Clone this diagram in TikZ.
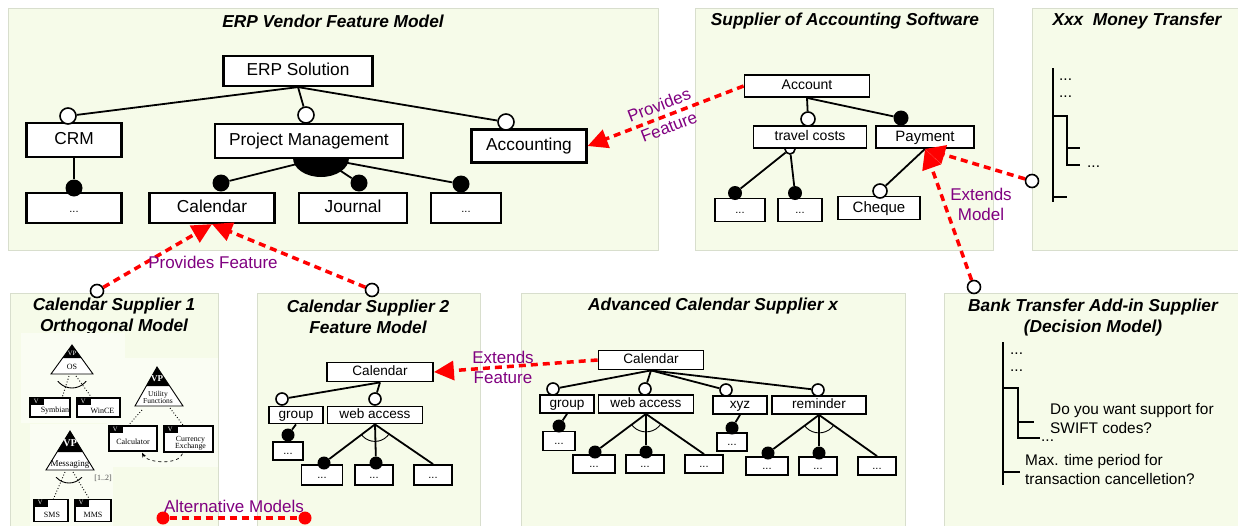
\documentclass[tikz,border=0pt]{standalone}
\usepackage{fontspec}
\setmainfont{Liberation Sans}
\newfontfamily\orthfont{Liberation Serif}
\usetikzlibrary{arrows.meta,calc}
\definecolor{pfill}{RGB}{246,251,233}
\definecolor{pline}{RGB}{216,222,205}
\definecolor{insetc}{RGB}{250,253,243}
\definecolor{lblpurple}{RGB}{128,0,128}
\definecolor{relred}{RGB}{255,0,0}
\newcommand\myfs[2]{\fontsize{#1}{#2}\selectfont}
\begin{document}
\begin{tikzpicture}[x=1pt,y=-1pt,
  panel/.style={draw=pline, fill=pfill, line width=1pt},
  ptitle/.style={font=\myfs{17.3}{21}\bfseries\itshape, align=center, inner sep=0},
  fbox/.style={draw, fill=white, inner sep=0},
  bigbox/.style={fbox, line width=2.2pt, font=\myfs{17.3}{20}, text height=12.5pt, text depth=3.5pt},
  midbox/.style={fbox, line width=1.8pt, font=\myfs{14}{16}, text height=10pt, text depth=3pt},
  paybox/.style={fbox, line width=1.8pt, font=\myfs{15}{17}, text height=11pt, text depth=3pt},
  smallbox/.style={fbox, line width=1.8pt, font=\myfs{13.6}{16}, text height=10pt, text depth=3pt},
  dotsbox/.style={fbox, line width=1.8pt, font=\myfs{11}{12}, text height=9pt, text depth=2.5pt},
  optc/.style={circle, draw, fill=white, line width=1.6pt, inner sep=0, minimum size=#1},
  mandc/.style={circle, fill=black, inner sep=0, minimum size=#1},
  srcc/.style={circle, draw=black, fill=white, line width=1.6pt, inner sep=0, minimum size=13pt},
  endc/.style={circle, fill=relred, inner sep=0, minimum size=13pt},
  conn/.style={line width=1.8pt},
  thinarc/.style={line width=0.9pt},
  tree/.style={line width=1.5pt},
  plain/.style={font=\myfs{15.4}{17}, inner sep=0, anchor=west},
  rel/.style={draw=relred, line width=3.5pt, dash pattern=on 7pt off 5pt},
  relarr/.style={rel, -{Triangle[length=20pt, width=19pt]}},
  lbl/.style={text=lblpurple, font=\myfs{17}{20}, align=center, inner sep=0},
  vbox/.style={draw, fill=white, line width=1.4pt, inner sep=0},
  vtxt/.style={font=\orthfont\myfs{8}{8}, inner sep=0},
  vtab/.style={text=white, font=\orthfont\myfs{6.5}{7}, inner sep=0},
  dotl/.style={dotted, line width=0.9pt},
  tri/.style={draw, fill=white, line width=0.9pt}
]
\useasboundingbox (0,0) rectangle (1238,525);

% ---------------- panels ----------------
\draw[panel] (8,8) rectangle (658,250);
\draw[panel] (695,8) rectangle (993,250);
\draw[panel] (1032,8) rectangle (1245,250);
\draw[panel] (10,293) rectangle (218,532);
\draw[panel] (257,293) rectangle (480,532);
\draw[panel] (521,293) rectangle (905,532);
\draw[panel] (944,293) rectangle (1245,532);

\node[ptitle] (t1) at (333,21) {ERP Vendor Feature Model};
\node[ptitle] (t2) at (845,21) {Supplier of Accounting Software};
\node[ptitle] (t3) at (1137,21) {Xxx~ Money Transfer};
\node[ptitle] (t4) at (114,317) {Calendar Supplier 1\\Orthogonal Model};
\node[ptitle] (t5) at (368,317) {Calendar Supplier 2\\Feature Model};
\node[ptitle] (t6) at (713,306) {Advanced Calendar Supplier x};
\node[ptitle] (t7) at (1093,318) {Bank Transfer Add-in Supplier\\(Decision Model)};

% ---------------- ERP vendor feature model ----------------
\node[bigbox, minimum width=149pt, minimum height=30pt] (erp) at (298,71) {ERP Solution};
\node[bigbox, minimum width=95pt, minimum height=34pt] (crm) at (74,140) {CRM};
\node[bigbox, minimum width=188pt, minimum height=34pt] (pm) at (309,141) {Project Management};
\node[bigbox, minimum width=115pt, minimum height=33pt] (acc) at (529,146) {Accounting};
\node[dotsbox, line width=2.2pt, text height=12.5pt, text depth=3.5pt, minimum width=95pt, minimum height=30pt] (crmd) at (74,208) {...};
\node[bigbox, minimum width=125pt, minimum height=30pt] (cal) at (212,208) {Calendar};
\node[bigbox, minimum width=108pt, minimum height=30pt] (jou) at (353,208) {Journal};
\node[dotsbox, line width=2.2pt, text height=12.5pt, text depth=3.5pt, minimum width=70pt, minimum height=30pt] (erpd) at (466,208) {...};

\node[optc=16pt] (o1) at (68,116) {};
\node[optc=16pt] (o2) at (306,115) {};
\node[optc=16pt] (o3) at (506,122) {};
\draw[conn] (erp.south) -- (o1);
\draw[conn] (erp.south) -- (o2);
\draw[conn] (erp.south) -- (o3);

\node[mandc=17pt] (m1) at (74,188) {};
\draw[conn] (crm.south) -- (m1);

\coordinate (pmo) at (321,158);
\begin{scope}
  \clip (280,158) rectangle (362,200);
  \fill (pmo) ellipse [x radius=28, y radius=19];
\end{scope}
\node[mandc=17pt] (m2) at (221,183) {};
\node[mandc=17pt] (m3) at (359,183) {};
\node[mandc=17pt] (m4) at (461,184) {};
\draw[conn] (pmo) -- (m2);
\draw[conn] (pmo) -- (m3);
\draw[conn] (pmo) -- (m4);

% ---------------- Supplier of accounting software ----------------
\node[optc=10pt] (o22) at (790,149) {};
\node[midbox, minimum width=125pt, minimum height=22pt] (acct) at (807,86) {Account};
\node[midbox, minimum width=113pt, minimum height=22pt] (trav) at (810,137) {travel costs};
\node[paybox, minimum width=98pt, minimum height=22pt] (pay) at (925,137) {Payment};
\node[dotsbox, minimum width=50pt, minimum height=23pt] (d21) at (740,210) {...};
\node[dotsbox, minimum width=44pt, minimum height=23pt] (d22) at (800,210) {...};
\node[paybox, minimum width=82pt, minimum height=23pt] (chq) at (879,208) {Cheque};

\node[optc=14pt] (o21) at (808,119) {};
\node[mandc=15pt] (m21) at (901,118) {};
\draw[conn] (acct.south) -- (o21);
\draw[conn] (acct.south) -- (m21);
\node[mandc=14pt] (m22) at (735,193) {};
\node[mandc=14pt] (m23) at (795,193) {};
\draw[conn] (o22) -- (m22);
\draw[conn] (o22) -- (m23);
\node[optc=14pt] (o23) at (880,191) {};
\draw[conn] (pay.south) -- (o23);

% ---------------- Xxx money transfer ----------------
\coordinate (x1) at (1053,68);
\coordinate (x2) at (1053,202);
\draw[tree] (x1) -- (x2);
\draw[tree] (1053,116) -- (1067,116) -- (1067,165) -- (1080,165);
\draw[tree] (1067,148) -- (1080,148);
\draw[tree] (1053,197) -- (1067,197);
\node[plain] (xd1) at (1059,80) {...};
\node[plain] (xd2) at (1059,97) {...};
\node[plain] (xd3) at (1087,167) {...};

% ---------------- Calendar supplier 1 (orthogonal model) ----------------
\fill[insetc] (21,333) rectangle (125,423);
\fill[insetc] (30,424) rectangle (113,526);
\fill[insetc] (107,358) rectangle (217.5,467);

% OS
\coordinate (osA) at (72,345);
\coordinate (osL) at (51,374);
\coordinate (osR) at (93,374);
\draw[tri] (osA) -- (osL) -- (osR) -- cycle;
\fill (osA) -- ($(osA)!0.45!(osL)$) -- ($(osA)!0.45!(osR)$) -- cycle;
\node[vtab] (osvp) at (72,353) {VP};
\node[vtxt] (osl) at (72,367) {OS};
\node[vbox, minimum width=40pt, minimum height=19pt] (sym) at (50,407.5) {};
\node[vbox, minimum width=43pt, minimum height=19pt] (win) at (98.5,407.5) {};
\coordinate (os1) at (69,376);
\coordinate (os2) at (76,376);
\coordinate (sy1) at (62,398);
\coordinate (wi1) at (92,398);
\draw[dotl] (os1) -- (sy1);
\draw[dotl] (os2) -- (wi1);
\begin{scope}
  \clip (40,381) rectangle (105,395);
  \draw[thinarc] (72,370) circle [radius=18];
\end{scope}

% Utility functions
\coordinate (utA) at (157,367);
\coordinate (utL) at (135,406);
\coordinate (utR) at (183,406);
\draw[tri] (utA) -- (utL) -- (utR) -- cycle;
\fill (utA) -- ($(utA)!0.49!(utL)$) -- ($(utA)!0.49!(utR)$) -- cycle;
\node[vtab, font=\orthfont\bfseries\myfs{9}{9}] (utvp) at (157,379) {VP};
\node[vtxt, align=center, font=\orthfont\myfs{7.5}{7}] (utl) at (158,397) {Utility\\Functions};
\node[vbox, minimum width=48pt, minimum height=25pt] (calc) at (133,438.5) {};
\node[vbox, minimum width=49pt, minimum height=26pt] (curr) at (188.5,439) {};
\coordinate (ut1) at (142,410);
\coordinate (ut2) at (170,408);
\coordinate (ca1) at (127,427);
\coordinate (cu1) at (183,425);
\draw[dotl] (ut1) -- (ca1);
\draw[dotl] (ut2) -- (cu1);
\draw[dashed, line width=0.7pt, -{Stealth[length=5pt,width=4pt]}] ($(curr.south)+(-6,1)$) .. controls +(-3,11) and +(6,11) .. ($(calc.south)+(9,1)$);

% Messaging
\coordinate (msA) at (70,431);
\coordinate (msL) at (46,470);
\coordinate (msR) at (94,470);
\draw[tri] (msA) -- (msL) -- (msR) -- cycle;
\fill (msA) -- ($(msA)!0.54!(msL)$) -- ($(msA)!0.54!(msR)$) -- cycle;
\node[vtab, font=\orthfont\bfseries\myfs{10.5}{10}] (msvp) at (70,443) {VP};
\node[vtxt, font=\orthfont\myfs{9}{9}] (msl) at (70,464) {Messaging};
\node[vtxt, text=black!70] (card) at (103,478) {[1..2]};
\node[vbox, minimum width=34pt, minimum height=22pt] (sms) at (51,510.5) {};
\node[vbox, minimum width=36pt, minimum height=22pt] (mms) at (93,510.5) {};
\coordinate (ms1) at (65,472);
\coordinate (ms2) at (73,472);
\coordinate (sm1) at (53,500);
\coordinate (mm1) at (90,500);
\draw[dotl] (ms1) -- (sm1);
\draw[dotl] (ms2) -- (mm1);
\begin{scope}
  \clip (40,477) rectangle (100,490);
  \draw[thinarc] (69,466) circle [radius=17];
\end{scope}

% variant tabs and labels
\foreach \b/\t/\dx/\dy in {sym/Symbian/5/3.5, win/WinCE/4/3.5, calc/Calculator/0/3.5, sms/SMS/1/4, mms/MMS/0/4}{
  \fill (\b.north west) rectangle ++(15,8);
  \node[vtab] at ($(\b.north west)+(7,4)$) {V};
  \node[vtxt] at ($(\b.center)+(\dx,\dy)$) {\t};
}
\fill (curr.north west) rectangle ++(15,8);
\node[vtab] at ($(curr.north west)+(7,4)$) {V};
\node[vtxt, align=center, font=\orthfont\myfs{7.8}{7.2}] (currl) at ($(curr.center)+(2,4)$) {Currency\\Exchange};

% ---------------- Calendar supplier 2 ----------------
\node[smallbox, minimum width=106pt, minimum height=19pt] (cal5) at (380,372) {Calendar};
\node[smallbox, minimum width=54pt, minimum height=17pt] (grp5) at (296,415) {group};
\node[smallbox, minimum width=95pt, minimum height=17pt] (wa5) at (375,415) {web access};
\node[dotsbox, minimum width=30pt, minimum height=18pt] (d50) at (288,451) {...};
\node[dotsbox, minimum width=41pt, minimum height=20pt] (d51) at (322,475) {...};
\node[dotsbox, minimum width=38pt, minimum height=20pt] (d52) at (374,475) {...};
\node[dotsbox, minimum width=38pt, minimum height=20pt] (d53) at (433,475) {...};
\node[optc=12pt] (o51) at (282,399) {};
\node[optc=12pt] (o52) at (375,399) {};
\draw[conn] (cal5.south) -- (o51);
\draw[conn] (cal5.south) -- (o52);
\node[mandc=13pt] (m50) at (288,435) {};
\draw[conn] (grp5.south) -- (m50);
\node[mandc=13pt] (m51) at (324,463) {};
\node[mandc=13pt] (m52) at (376,463) {};
\draw[conn] (wa5.south) -- (m51);
\draw[conn] (wa5.south) -- (m52);
\draw[conn] (wa5.south) -- (d53.north);
\begin{scope}
  \clip (wa5.south) -- ($(wa5.south)!3!(m51)$) -- ($(wa5.south)!3!(d53.north)$) -- cycle;
  \draw[thinarc] (wa5.south) circle [radius=17];
\end{scope}

% ---------------- Advanced calendar supplier x ----------------
\node[smallbox, minimum width=105pt, minimum height=19pt] (cal6) at (651,360) {Calendar};
\node[smallbox, minimum width=54pt, minimum height=18pt] (grp6) at (567,404) {group};
\node[smallbox, minimum width=95pt, minimum height=18pt] (wa6) at (646,404) {web access};
\node[smallbox, minimum width=54pt, minimum height=18pt] (xyz6) at (740,405) {xyz};
\node[smallbox, minimum width=94pt, minimum height=18pt] (rem6) at (819,405) {reminder};
\node[dotsbox, minimum width=32pt, minimum height=19pt] (d60) at (559,441) {...};
\node[dotsbox, minimum width=42pt, minimum height=18pt] (d61) at (594,464) {...};
\node[dotsbox, minimum width=38pt, minimum height=18pt] (d62) at (645,464) {...};
\node[dotsbox, minimum width=38pt, minimum height=18pt] (d63) at (704,464) {...};
\node[dotsbox, minimum width=30pt, minimum height=18pt] (d64) at (732,442) {...};
\node[dotsbox, minimum width=42pt, minimum height=18pt] (d65) at (767,466) {...};
\node[dotsbox, minimum width=38pt, minimum height=18pt] (d66) at (818,466) {...};
\node[dotsbox, minimum width=38pt, minimum height=18pt] (d67) at (877,466) {...};
\node[optc=12pt] (o61) at (553,389) {};
\node[optc=12pt] (o62) at (645,389) {};
\node[optc=12pt] (o63) at (726,390) {};
\node[optc=12pt] (o64) at (818,390) {};
\foreach \o in {o61,o62,o63,o64}{\draw[conn] (cal6.south) -- (\o);}
\node[mandc=13pt] (m60) at (559,426) {};
\node[mandc=13pt] (m61) at (595,452) {};
\node[mandc=13pt] (m62) at (646,452) {};
\node[mandc=13pt] (m63) at (732,428) {};
\node[mandc=13pt] (m64) at (768,453) {};
\node[mandc=13pt] (m65) at (819,453) {};
\draw[conn] (grp6.south) -- (m60);
\draw[conn] (wa6.south) -- (m61);
\draw[conn] (wa6.south) -- (m62);
\draw[conn] (wa6.south) -- (d63.north);
\draw[conn] (xyz6.south) -- (m63);
\draw[conn] (rem6.south) -- (m64);
\draw[conn] (rem6.south) -- (m65);
\draw[conn] (rem6.south) -- (d67.north);
\begin{scope}
  \clip (wa6.south) -- ($(wa6.south)!3!(m61)$) -- ($(wa6.south)!3!(d63.north)$) -- cycle;
  \draw[thinarc] (wa6.south) circle [radius=18];
\end{scope}
\begin{scope}
  \clip (rem6.south) -- ($(rem6.south)!3!(m64)$) -- ($(rem6.south)!3!(d67.north)$) -- cycle;
  \draw[thinarc] (rem6.south) circle [radius=18];
\end{scope}

% ---------------- Bank transfer add-in supplier ----------------
\coordinate (b1) at (1003,342);
\coordinate (b2) at (1003,485);
\draw[tree] (b1) -- (b2);
\draw[tree] (1003,388) -- (1018,388) -- (1018,438) -- (1040,438);
\draw[tree] (1018,422) -- (1034,422);
\draw[tree] (1003,472) -- (1020,472);
\node[plain] (bd1) at (1010,354) {...};
\node[plain] (bd2) at (1010,371) {...};
\node[plain] (bq1) at (1050,411) {Do you want support for};
\node[plain] (bq2) at (1050,428) {SWIFT codes?};
\node[plain] (bd3) at (1041,441) {...};
\node[plain] (bq3) at (1025,462) {Max. time period for};
\node[plain] (bq4) at (1025,479) {transaction cancelletion?};

% ---------------- relations ----------------
\draw[relarr] (acct.west) -- (acc.east);
\node[lbl, rotate=21] (lp1a) at (659,105) {Provides};
\node[lbl, rotate=21] (lp1b) at (669,127) {Feature};

\node[srcc] (s1) at (97,291) {};
\node[srcc] (s2) at (372,290) {};
\draw[relarr] (s1) -- (cal.south);
\draw[relarr] (s2) -- (cal.south);
\node[lbl] (lp2) at (213,262) {Provides Feature};

\draw[relarr] (cal6.west) -- (cal5.east);
\node[lbl] (le1) at (503,367) {Extends\\Feature};

\node[srcc] (s3) at (1032,181) {};
\node[srcc] (s4) at (974,287) {};
\draw[relarr] (s3) -- (pay.south);
\draw[relarr] (s4) -- (pay.south);
\node[lbl] (le2) at (981,204) {Extends\\Model};

\node[endc] (am1) at (163,518) {};
\node[endc] (am2) at (305,518) {};
\draw[rel] (am1) -- (am2);
\node[lbl] (la) at (234,506) {Alternative Models};
\end{tikzpicture}
\end{document}
